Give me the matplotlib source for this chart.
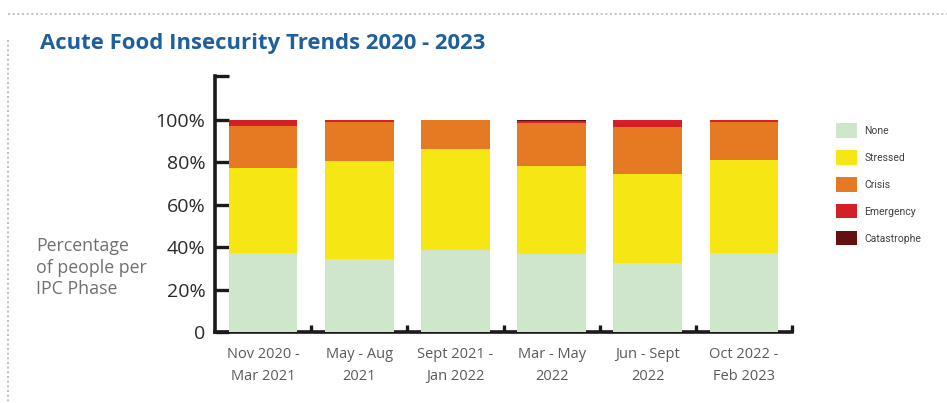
import matplotlib
matplotlib.use("Agg")
import matplotlib.pyplot as plt
from matplotlib.lines import Line2D
import numpy as np

periods = ["Nov 2020 -\nMar 2021", "May - Aug\n2021", "Sept 2021 -\nJan 2022",
           "Mar - May\n2022", "Jun - Sept\n2022", "Oct 2022 -\nFeb 2023"]
phases = ["None", "Stressed", "Crisis", "Emergency", "Catastrophe"]
none_pct = [37.0, 34.5, 38.6, 36.6, 32.3, 37.0]
stressed_pct = [40.0, 46.0, 47.4, 41.7, 42.1, 44.0]
crisis_pct = [20.0, 18.3, 14.0, 19.9, 22.2, 18.0]
emergency_pct = [3.0, 1.2, 0.0, 1.2, 3.4, 1.0]
catastrophe_pct = [0.0, 0.0, 0.0, 0.6, 0.0, 0.0]
yticks = [0, 20, 40, 60, 80, 100]
ytick_labels = ["0", "20%", "40%", "60%", "80%", "100%"]

colors = ["#cfe6cc", "#f5e614", "#e67a22", "#d21f28", "#651010"]

plt.rcParams['font.family'] = ['Open Sans', 'DejaVu Sans']

fig = plt.figure(figsize=(9.47, 4.03), dpi=100)
ax = fig.add_axes([215/947, 1-332/403, (792-215)/947, (332-76)/403])

x = np.arange(len(periods))
bottom = np.zeros(len(periods))
handles = []
for name, vals, c in zip(phases, [none_pct, stressed_pct, crisis_pct, emergency_pct, catastrophe_pct], colors):
    b = ax.bar(x, vals, bottom=bottom, width=0.715, color=c, label=name, zorder=3, linewidth=0)
    handles.append(b)
    bottom += np.array(vals)

ax.set_xlim(-0.5, 5.5)
ax.set_ylim(0, 120.5)
for s in ["top", "right"]:
    ax.spines[s].set_visible(False)
for s in ["left", "bottom"]:
    ax.spines[s].set_linewidth(2.6)
    ax.spines[s].set_color("#1a1a1a")
    ax.spines[s].set_capstyle("projecting")

ax.set_yticks(yticks)
ax.set_yticklabels(ytick_labels, fontsize=14, color="#2a2a2a")
ax.set_yticks([120.5], minor=True)
ax.tick_params(axis="y", which="both", direction="in", length=10, width=2.4, color="#1a1a1a", pad=7)
ax.set_xticks(x)
ax.set_xticklabels(periods, fontsize=10.5, color="#5a5a5a", linespacing=1.6)
ax.tick_params(axis="x", which="major", length=0, pad=11)
ax.set_xticks(np.arange(0.5, 6.0, 1.0), minor=True)
ax.tick_params(axis="x", which="minor", direction="in", length=5, width=2.4, color="#1a1a1a")

fig.text(40/947, 1-43/403, "Acute Food Insecurity Trends 2020 - 2023", fontsize=15.9,
         fontweight="bold", color="#1f5f9c", va="center", ha="left")
fig.text(36/947, 1-268/403, "Percentage\nof people per\nIPC Phase", fontsize=12.8,
         color="#707070", va="center", ha="left", linespacing=1.25)

fig.legend(handles=handles, labels=phases, loc="upper left",
           bbox_to_anchor=(827/947, 1-114/403), frameon=False,
           prop={'family': ['Liberation Sans Narrow', 'Roboto', 'DejaVu Sans'], 'size': 7.5},
           handlelength=1.95, handleheight=1.75, labelspacing=1.2, handletextpad=0.75,
           labelcolor="#404040")

# dotted frame lines
fig.add_artist(Line2D([8/947, 1.0], [1-14/403, 1-14/403], transform=fig.transFigure,
                      color="#b8b8b8", linestyle=(0, (1.2, 1.6)), linewidth=1.2))
fig.add_artist(Line2D([8/947, 8/947], [1-40/403, 0.0], transform=fig.transFigure,
                      color="#b8b8b8", linestyle=(0, (1.2, 1.6)), linewidth=1.2))

fig.savefig("out.png", dpi=100)
